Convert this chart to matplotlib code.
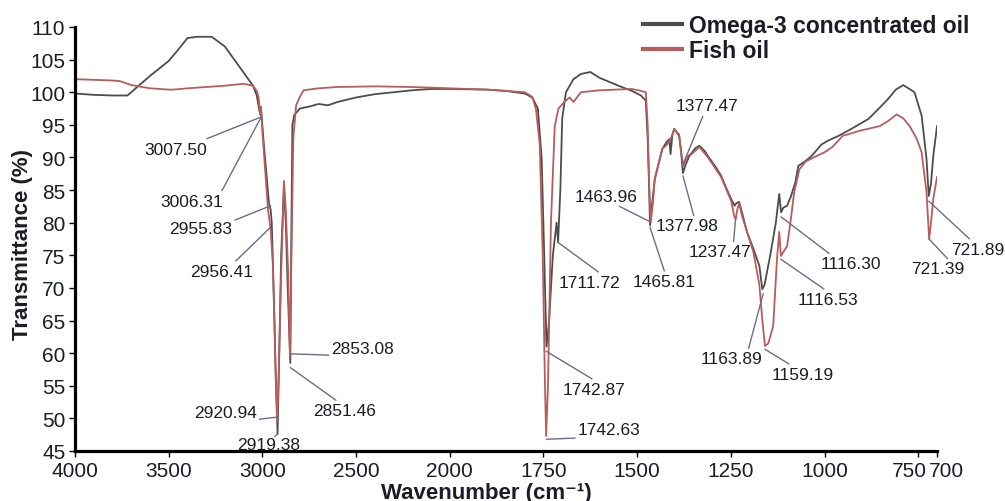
import numpy as np
import matplotlib
matplotlib.use("Agg")
import matplotlib.pyplot as plt
import matplotlib.transforms as mtransforms

plt.rcParams['font.family'] = ['Liberation Sans', 'DejaVu Sans']

# Omega-3 concentrated oil (wavenumber, transmittance)
omega_w = [4000, 3900, 3800, 3720, 3680, 3600, 3500, 3450, 3400, 3350, 3270, 3200,
           3150, 3100, 3050, 3030, 3015, 3007, 2995, 2980, 2965, 2956, 2950, 2940,
           2930, 2919, 2910, 2900, 2885, 2875, 2865, 2851, 2845, 2840, 2830, 2800,
           2750, 2700, 2650, 2600, 2500, 2400, 2300, 2200, 2100, 2000, 1900, 1850,
           1800, 1780, 1765, 1755, 1748, 1742, 1735, 1725, 1715, 1711, 1705, 1700,
           1690, 1670, 1650, 1625, 1600, 1550, 1514, 1490, 1477, 1472, 1468, 1465.8,
           1460, 1453, 1433, 1420, 1414, 1411, 1406, 1401, 1388, 1383, 1378, 1370,
           1361, 1345, 1334, 1320, 1311, 1290, 1276, 1260, 1249, 1240, 1235, 1228,
           1220, 1207, 1190, 1174, 1166, 1160, 1145, 1130, 1121, 1116, 1110, 1100,
           1090, 1078, 1070, 1050, 1035, 1008, 990, 963, 928, 883, 850, 830, 810,
           790, 760, 741, 728, 722, 716, 710, 700]
omega_t = [99.8, 99.6, 99.5, 99.5, 100.5, 102.5, 104.8, 106.5, 108.3, 108.5, 108.5, 107.0,
           105.0, 103.0, 101.0, 99.5, 97.0, 97.3, 93.0, 88.0, 83.0, 82.0, 80.0, 70.0,
           58.0, 47.6, 60.0, 75.0, 85.6, 80.0, 70.0, 58.5, 80.0, 95.0, 96.5, 97.5,
           97.8, 98.2, 98.0, 98.5, 99.2, 99.7, 100.0, 100.3, 100.5, 100.5, 100.4, 100.2,
           99.8, 99.2, 97.5, 90.0, 75.0, 61.0, 65.0, 75.0, 80.0, 77.0, 85.0, 96.0,
           100.0, 102.0, 102.8, 103.1, 102.2, 101.0, 100.2, 99.5, 98.7, 93.0, 85.0, 79.6,
           83.0, 86.7, 91.3, 92.5, 92.8, 90.5, 93.5, 94.4, 93.3, 91.0, 87.6, 89.0,
           90.2, 91.4, 91.8, 91.0, 90.2, 88.5, 87.2, 85.0, 83.6, 82.6, 83.0, 83.2,
           81.5, 78.6, 76.0, 73.4, 69.8, 70.5, 75.0, 80.0, 84.4, 81.6, 82.3, 82.6,
           84.0, 86.2, 88.7, 89.5, 90.2, 92.0, 92.6, 93.3, 94.4, 95.9, 97.8, 99.0, 100.4,
           101.1, 100.0, 96.4, 89.8, 84.1, 86.0, 90.2, 94.8]

# Fish oil
fish_w = [4000, 3900, 3800, 3760, 3700, 3600, 3500, 3475, 3400, 3300, 3200, 3100,
          3050, 3030, 3020, 3012, 3007.5, 3000, 2985, 2970, 2956, 2945, 2935, 2928,
          2921, 2912, 2900, 2885, 2875, 2862, 2853, 2845, 2835, 2820, 2800, 2780,
          2700, 2600, 2400, 2200, 2000, 1900, 1800, 1780, 1770, 1760, 1752, 1746,
          1743, 1738, 1730, 1720, 1710, 1693, 1680, 1670, 1650, 1600, 1514, 1490,
          1477, 1472, 1468, 1464, 1458, 1453, 1433, 1420, 1414, 1406, 1401, 1388,
          1383, 1377, 1370, 1361, 1355, 1334, 1311, 1276, 1249, 1241, 1237, 1233,
          1228, 1220, 1207, 1190, 1174, 1166, 1159, 1150, 1137, 1127, 1121, 1116.5,
          1110, 1100, 1090, 1081, 1067, 1050, 1022, 1000, 979, 952, 906, 853, 830,
          808, 790, 773, 755, 741, 728, 721, 716, 710, 700]
fish_t = [102.0, 101.9, 101.8, 101.7, 101.1, 100.6, 100.4, 100.4, 100.6, 100.8, 101.0, 101.3,
          101.0, 100.2, 99.2, 96.5, 97.8, 94.0, 88.0, 82.0, 79.0, 74.0, 64.0, 55.0,
          49.5, 58.0, 72.0, 86.4, 82.0, 72.0, 59.6, 75.0, 93.0, 98.0, 99.3, 100.3,
          100.6, 100.8, 100.9, 100.8, 100.6, 100.4, 100.0, 99.3, 97.4, 92.0, 75.0, 55.0,
          47.3, 55.0, 80.0, 94.8, 97.5, 98.6, 99.2, 98.5, 100.0, 100.3, 100.5, 100.2,
          100.0, 95.0, 86.0, 80.0, 83.0, 86.7, 91.3, 92.0, 92.5, 93.5, 94.3, 93.5,
          91.0, 88.7, 89.8, 90.4, 90.5, 91.6, 90.0, 87.0, 83.3, 81.0, 80.5, 82.0,
          83.0, 81.0, 78.6, 75.5, 70.5, 65.0, 61.1, 61.5, 64.2, 74.4, 78.6, 74.9,
          75.5, 76.4, 80.5, 84.7, 88.2, 89.4, 90.2, 90.8, 91.6, 93.3, 94.1, 94.8, 95.6,
          96.6, 96.0, 94.8, 93.0, 90.8, 84.7, 77.5, 80.0, 83.6, 87.0]

# peak labels: text, wavenumber, transmittance where the leader touches
peak_labels = ["3007.50", "3006.31", "2955.83", "2956.41", "2920.94", "2919.38",
               "2853.08", "2851.46", "1742.87", "1742.63", "1711.72", "1463.96",
               "1465.81", "1377.98", "1377.47", "1237.47", "1163.89", "1159.19",
               "1116.30", "1116.53", "721.89", "721.39"]
peak_w = [3007.50, 3006.31, 2955.83, 2956.41, 2920.94, 2919.38, 2853.08, 2851.46,
          1742.87, 1742.63, 1711.72, 1463.96, 1465.81, 1377.98, 1377.47, 1237.47,
          1163.89, 1159.19, 1116.30, 1116.53, 721.89, 721.39]
peak_t = [96.2, 96.2, 82.6, 79.3, 50.2, 47.6, 59.9, 57.8, 60.3, 46.8, 77.0, 80.1,
          79.3, 87.2, 89.0, 80.6, 69.1, 60.6, 80.9, 74.4, 83.3, 77.5]

# label offsets in pixels and leader attachment on the text box
label_off = [(-85, -32), (-69, -84), (-70, -23), (-49, -44), (-52, 5), (-9, -10),
             (73, 5), (54, -43), (48, -38), (63, 10), (32, -40), (-45, 26),
             (14, -54), (4, -50), (24, 58), (-16, -33), (-32, -65), (38, -25),
             (70, -47), (47, -40), (49, -48), (9, -30)]
label_rel = [(0.88, 1), (0.95, 1), (1, 1), (0.68, 1), (1, 0), (0.6, 1),
             (0.5, 0), (0.43, 1), (0.54, 1), (0.5, 0), (0.7, 1), (0.63, 0),
             (0.52, 1), (0.62, 1), (0.45, 0), (0.72, 1), (0.77, 1), (0.35, 1),
             (0.2, 1), (0.5, 1), (0.4, 1), (0.73, 1)]

x_ticks = [4000, 3500, 3000, 2500, 2000, 1750, 1500, 1250, 1000, 750, 700]
y_ticks = list(range(45, 111, 5))


# split wavenumber axis: 500 per unit above 2000, 250 per unit below
def fwd(w):
    w = np.asarray(w, dtype=float)
    return np.where(w >= 2000, w / 500.0, 4.0 - (2000.0 - w) / 250.0)


def inv(u):
    u = np.asarray(u, dtype=float)
    return np.where(u >= 4, u * 500.0, 2000.0 - (4.0 - u) * 250.0)


fig = plt.figure(figsize=(10.05, 5.02), dpi=100)
ax = fig.add_axes([75 / 1005, 50 / 502, 862 / 1005, 424 / 502])
ax.set_xscale('function', functions=(fwd, inv))

ax.plot(omega_w, omega_t, color='#4d4d4d', lw=1.3, label='Omega-3 concentrated oil')
ax.plot(fish_w, fish_t, color='#b85c5c', lw=1.3, label='Fish oil')

ax.set_xlim(4000, 700)
ax.set_ylim(45, 110)
ax.set_xticks(x_ticks)
ax.set_xticklabels([str(t) for t in x_ticks])
ax.set_yticks(y_ticks)
ax.xaxis.set_minor_locator(matplotlib.ticker.NullLocator())

for s in ['top', 'right']:
    ax.spines[s].set_visible(False)
for s in ['left', 'bottom']:
    ax.spines[s].set_linewidth(2.3)
    ax.spines[s].set_color('black')
ax.tick_params(axis='both', direction='out', length=4, width=1, labelsize=15,
               labelcolor='#1c1c28', pad=3)

# 750 and 700 labels sit side by side
labs = ax.get_xticklabels()
labs[-2].set_transform(labs[-2].get_transform() +
                       mtransforms.ScaledTranslation(-9 / 100, 0, fig.dpi_scale_trans))
labs[-1].set_transform(labs[-1].get_transform() +
                       mtransforms.ScaledTranslation(9 / 100, 0, fig.dpi_scale_trans))

ax.set_xlabel('Wavenumber (cm⁻¹)', fontsize=16, fontweight='bold', color='#1c1c28')
ax.xaxis.set_label_coords((486 - 75) / 862, -31 / 424)
ax.set_ylabel('Transmittance (%)', fontsize=16, fontweight='bold', color='#1c1c28')
ax.yaxis.set_label_coords(-42 / 862, 0.49)

for txt, w, t, (dx, dy), rel in zip(peak_labels, peak_w, peak_t, label_off, label_rel):
    ax.annotate(txt, xy=(w, t), xytext=(dx, dy), textcoords='offset pixels',
                ha='center', va='center', fontsize=12.5, color='#1c1c28',
                arrowprops=dict(arrowstyle='-', color='#6b6b8a', lw=1,
                                shrinkA=0, shrinkB=0, relpos=rel))

leg = ax.legend(loc='upper left', bbox_to_anchor=(643 / 1005, 487 / 502),
                bbox_transform=fig.transFigure, frameon=False, borderpad=0,
                borderaxespad=0, handlelength=1.7, handletextpad=0.3,
                labelspacing=0.1, prop={'size': 16.5, 'weight': 'bold'})
for line in leg.get_lines():
    line.set_linewidth(3)
for text in leg.get_texts():
    text.set_color('#1c1c28')

fig.savefig('out.png', dpi=100)
